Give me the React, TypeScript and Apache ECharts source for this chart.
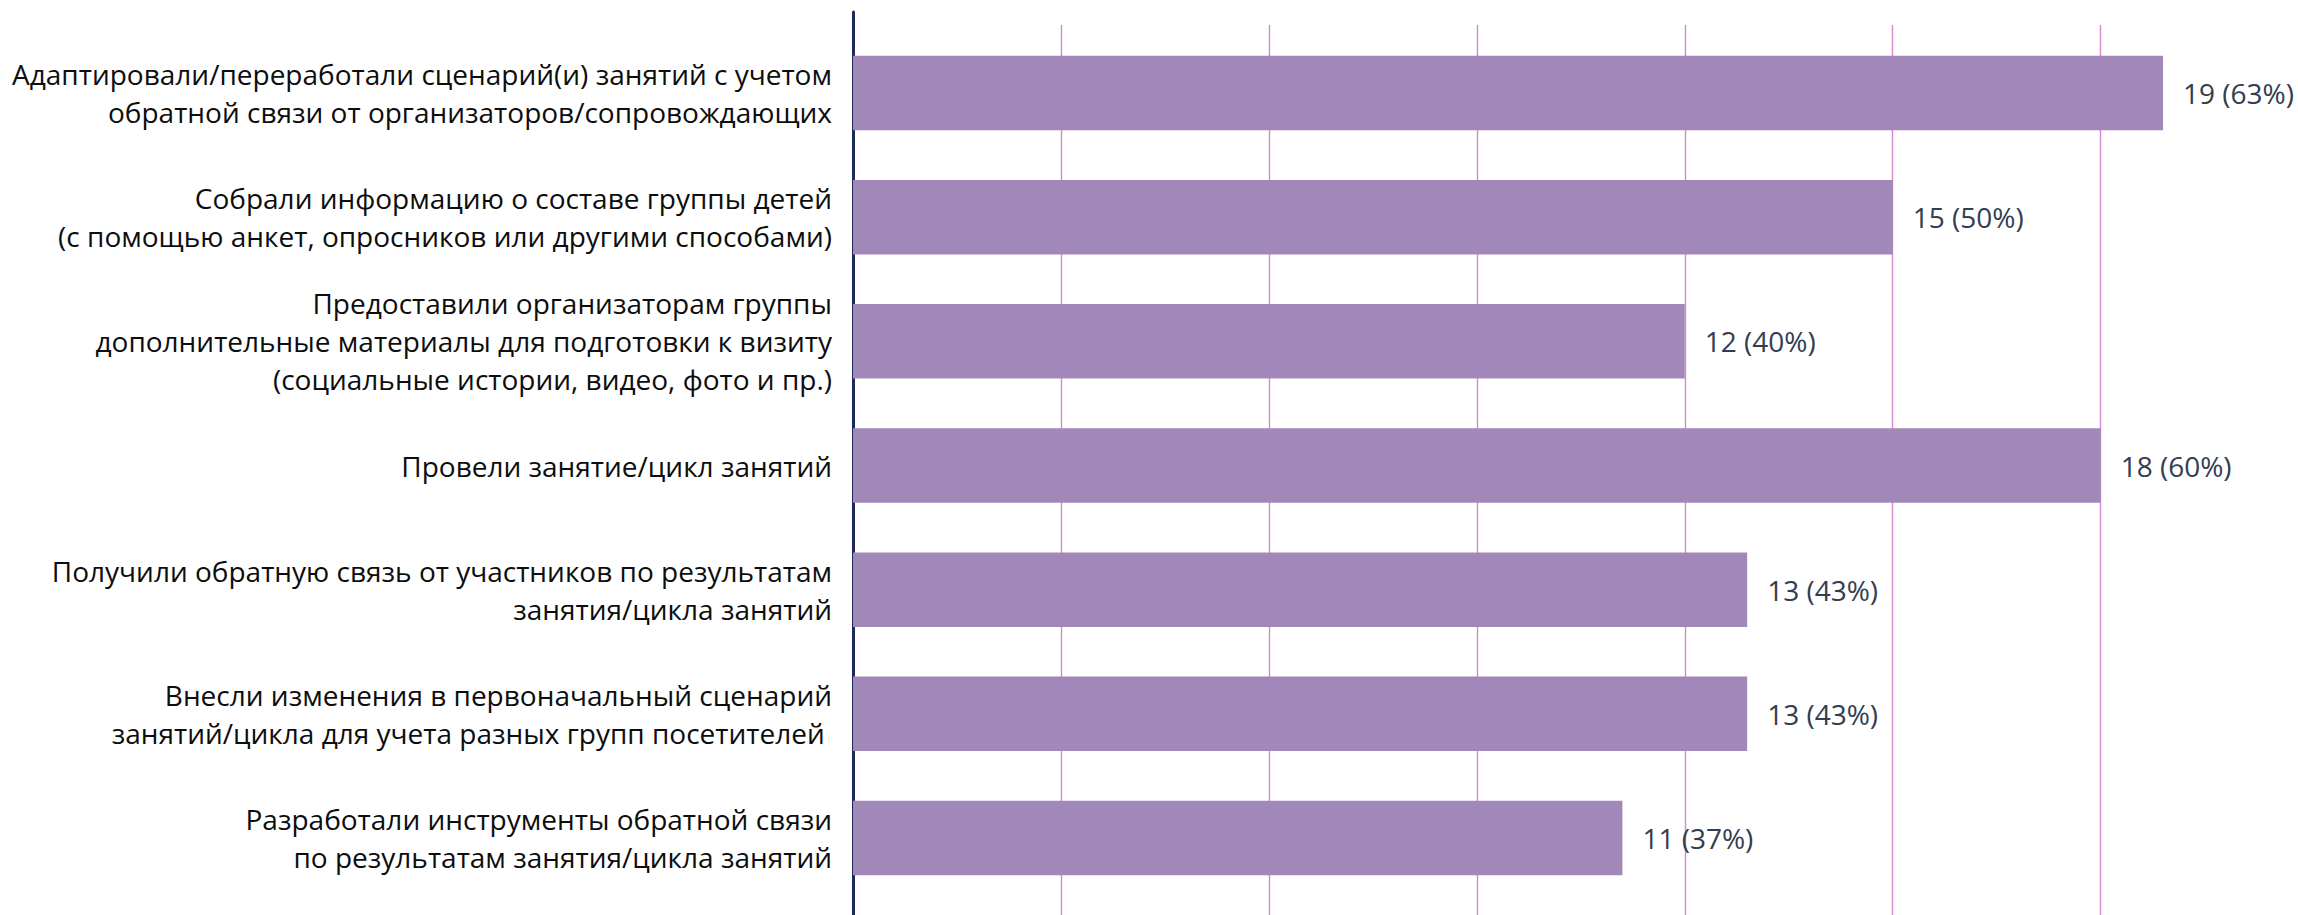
import React, { useEffect, useRef } from "react";
import * as echarts from "echarts";

const categories: string[] = [
  "Адаптировали/переработали сценарий(и) занятий с учетом\nобратной связи от организаторов/сопровождающих",
  "Собрали информацию о составе группы детей\n(с помощью анкет, опросников или другими способами)",
  "Предоставили организаторам группы\nдополнительные материалы для подготовки к визиту\n(социальные истории, видео, фото и пр.)",
  "Провели занятие/цикл занятий",
  "Получили обратную связь от участников по результатам\nзанятия/цикла занятий",
  "Внесли изменения в первоначальный сценарий\nзанятий/цикла для учета разных групп посетителей ",
  "Разработали инструменты обратной связи\nпо результатам занятия/цикла занятий",
];
const counts: number[] = [19, 15, 12, 18, 13, 13, 11];
const percents: number[] = [63, 50, 40, 60, 43, 43, 37];

const AXIS_MAX = 68;
const FONT = "'Open Sans', 'Noto Sans', sans-serif";

export default function App() {
  const ref = useRef<HTMLDivElement>(null);
  useEffect(() => {
    if (!ref.current) return;
    const chart = echarts.init(ref.current, undefined, { renderer: "svg" });
    const left = 853;
    const width = 1414;
    chart.setOption({
      animation: false,
      backgroundColor: "#ffffff",
      grid: [
        { left, width, top: 31, bottom: 15 },
        { left, width, top: 25, bottom: 0 },
        { left, width, top: 12, bottom: 0 },
      ],
      xAxis: [
        { type: "value", gridIndex: 0, min: 0, max: AXIS_MAX, interval: 10, show: false },
        {
          type: "value",
          gridIndex: 1,
          min: 0,
          max: AXIS_MAX,
          interval: 10,
          axisLine: { show: false },
          axisTick: { show: false },
          axisLabel: { show: false },
          splitLine: {
            show: true,
            showMinLine: false,
            showMaxLine: false,
            lineStyle: { color: "#d68acd", width: 1.4 },
          },
        },
        { type: "value", gridIndex: 2, min: 0, max: AXIS_MAX, show: false },
      ],
      yAxis: [
        {
          type: "category",
          gridIndex: 0,
          inverse: true,
          data: categories,
          axisLine: { show: false },
          axisTick: { show: false },
          splitLine: { show: false },
          axisLabel: {
            color: "#0d0d0d",
            fontFamily: FONT,
            fontSize: 28,
            lineHeight: 38,
            align: "right",
            margin: 21,
          },
        },
        { type: "value", gridIndex: 1, show: false },
        {
          type: "value",
          gridIndex: 2,
          axisLine: { show: true, lineStyle: { color: "#1f2a5c", width: 3 } },
          axisTick: { show: false },
          axisLabel: { show: false },
          splitLine: { show: false },
        },
      ],
      series: [
        {
          type: "bar",
          xAxisIndex: 0,
          yAxisIndex: 0,
          data: percents,
          barCategoryGap: "40%",
          itemStyle: { color: "#a287b9" },
          label: {
            show: true,
            position: "right",
            distance: 20,
            color: "#333d50",
            fontFamily: FONT,
            fontSize: 28,
            formatter: (p: any) => `${counts[p.dataIndex]} (${percents[p.dataIndex]}%)`,
          },
        },
      ],
    });
    return () => chart.dispose();
  }, []);
  return (
    <div
      ref={ref}
      style={{ position: "fixed", left: 0, top: 0, width: 2298, height: 915, background: "#fff" }}
    />
  );
}
